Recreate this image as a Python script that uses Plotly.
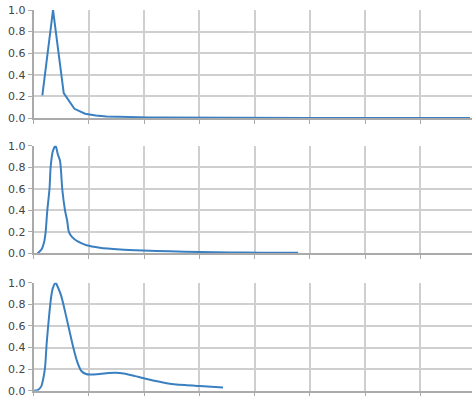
import plotly.graph_objects as go

# x positions in grid units (one vertical gridline per unit)
top_x = [0.16 + 0.1935 * i for i in range(41)]
top_y = [0.21, 1.0, 0.23, 0.085, 0.04, 0.023, 0.015, 0.011, 0.008, 0.0065,
         0.0055, 0.0047, 0.004, 0.0035, 0.003, 0.0027, 0.0024, 0.0022, 0.002, 0.0018,
         0.0016, 0.0015, 0.0014, 0.0013, 0.0012, 0.0011, 0.001, 0.001, 0.0009, 0.0009,
         0.0008, 0.0008, 0.0007, 0.0007, 0.0007, 0.0006, 0.0006, 0.0006, 0.0005, 0.0005, 0.0005]

mid_x = [0.075, 0.15, 0.19, 0.22, 0.25, 0.29, 0.31, 0.35, 0.40, 0.44, 0.48, 0.50,
         0.52, 0.57, 0.61, 0.64, 0.70, 0.80, 0.96, 1.20, 1.57, 1.98, 2.47, 3.01,
         3.56, 4.10, 4.79]
mid_y = [0.0, 0.04, 0.1, 0.2, 0.4, 0.6, 0.8, 0.95, 1.0, 0.92, 0.86, 0.75,
         0.6, 0.4, 0.3, 0.2, 0.15, 0.11, 0.075, 0.052, 0.036, 0.026, 0.018, 0.012,
         0.008, 0.006, 0.004]

bot_x = [0.0, 0.075, 0.14, 0.18, 0.21, 0.24, 0.28, 0.32, 0.35, 0.40, 0.44, 0.50,
         0.55, 0.63, 0.72, 0.79, 0.87, 0.95, 1.02, 1.20, 1.35, 1.48, 1.66, 1.84,
         2.05, 2.41, 2.74, 3.01, 3.43]
bot_y = [0.0, 0.005, 0.04, 0.12, 0.22, 0.45, 0.68, 0.87, 0.95, 1.0, 0.96, 0.88,
         0.78, 0.6, 0.4, 0.27, 0.18, 0.155, 0.15, 0.155, 0.163, 0.167, 0.157, 0.135,
         0.108, 0.07, 0.052, 0.043, 0.03]

y_ticks = [0.0, 0.2, 0.4, 0.6, 0.8, 1.0]
x_grid = [0, 1, 2, 3, 4, 5, 6, 7]

W, H = 472, 396
line_color = "#3a80c0"
grid_color = "#cfcfcf"
axis_color = "#aaaaaa"

series = [(top_x, top_y, "linear"), (mid_x, mid_y, "spline"), (bot_x, bot_y, "spline")]
# pixel rows (top, bottom) of each panel
rows_px = [(10, 118), (145.7, 253.3), (282.7, 390.7)]

fig = go.Figure()
layout = dict(width=W, height=H, margin=dict(l=0, r=0, t=0, b=0, autoexpand=False),
              plot_bgcolor="white", paper_bgcolor="white", showlegend=False,
              font=dict(family="DejaVu Sans", size=11, color="#444444"))

for i, ((xs, ys, shp), (t, b)) in enumerate(zip(series, rows_px), start=1):
    sfx = "" if i == 1 else str(i)
    line = dict(color=line_color, width=2, shape=shp)
    if shp == "spline":
        line["smoothing"] = 0.6
    fig.add_trace(go.Scatter(x=xs, y=ys, mode="lines", line=line,
                             xaxis="x" + sfx, yaxis="y" + sfx, hoverinfo="skip"))
    layout["xaxis" + sfx] = dict(domain=[33.5 / W, 1.0], range=[0, (W - 33.5) / 55.25],
                                 anchor="y" + sfx, tickvals=x_grid, showticklabels=False,
                                 showgrid=True, gridcolor=grid_color, gridwidth=1.5,
                                 showline=True, linecolor=axis_color, linewidth=1.5,
                                 ticks="outside", ticklen=4, tickcolor=axis_color,
                                 zeroline=False, automargin=False)
    layout["yaxis" + sfx] = dict(domain=[(H - b) / H, (H - t) / H], range=[0, 1.0],
                                 anchor="x" + sfx, tickvals=y_ticks, tickformat=".1f",
                                 showgrid=True, gridcolor=grid_color, gridwidth=1.5,
                                 showline=True, linecolor=axis_color, linewidth=1.5,
                                 ticks="outside", ticklen=4, tickcolor=axis_color,
                                 ticklabeloverflow="allow",
                                 zeroline=False, automargin=False)

fig.update_layout(**layout)
fig.write_html("out.html", config={"displayModeBar": False},
               post_script="document.body.style.margin='0';document.body.style.overflow='hidden';")
